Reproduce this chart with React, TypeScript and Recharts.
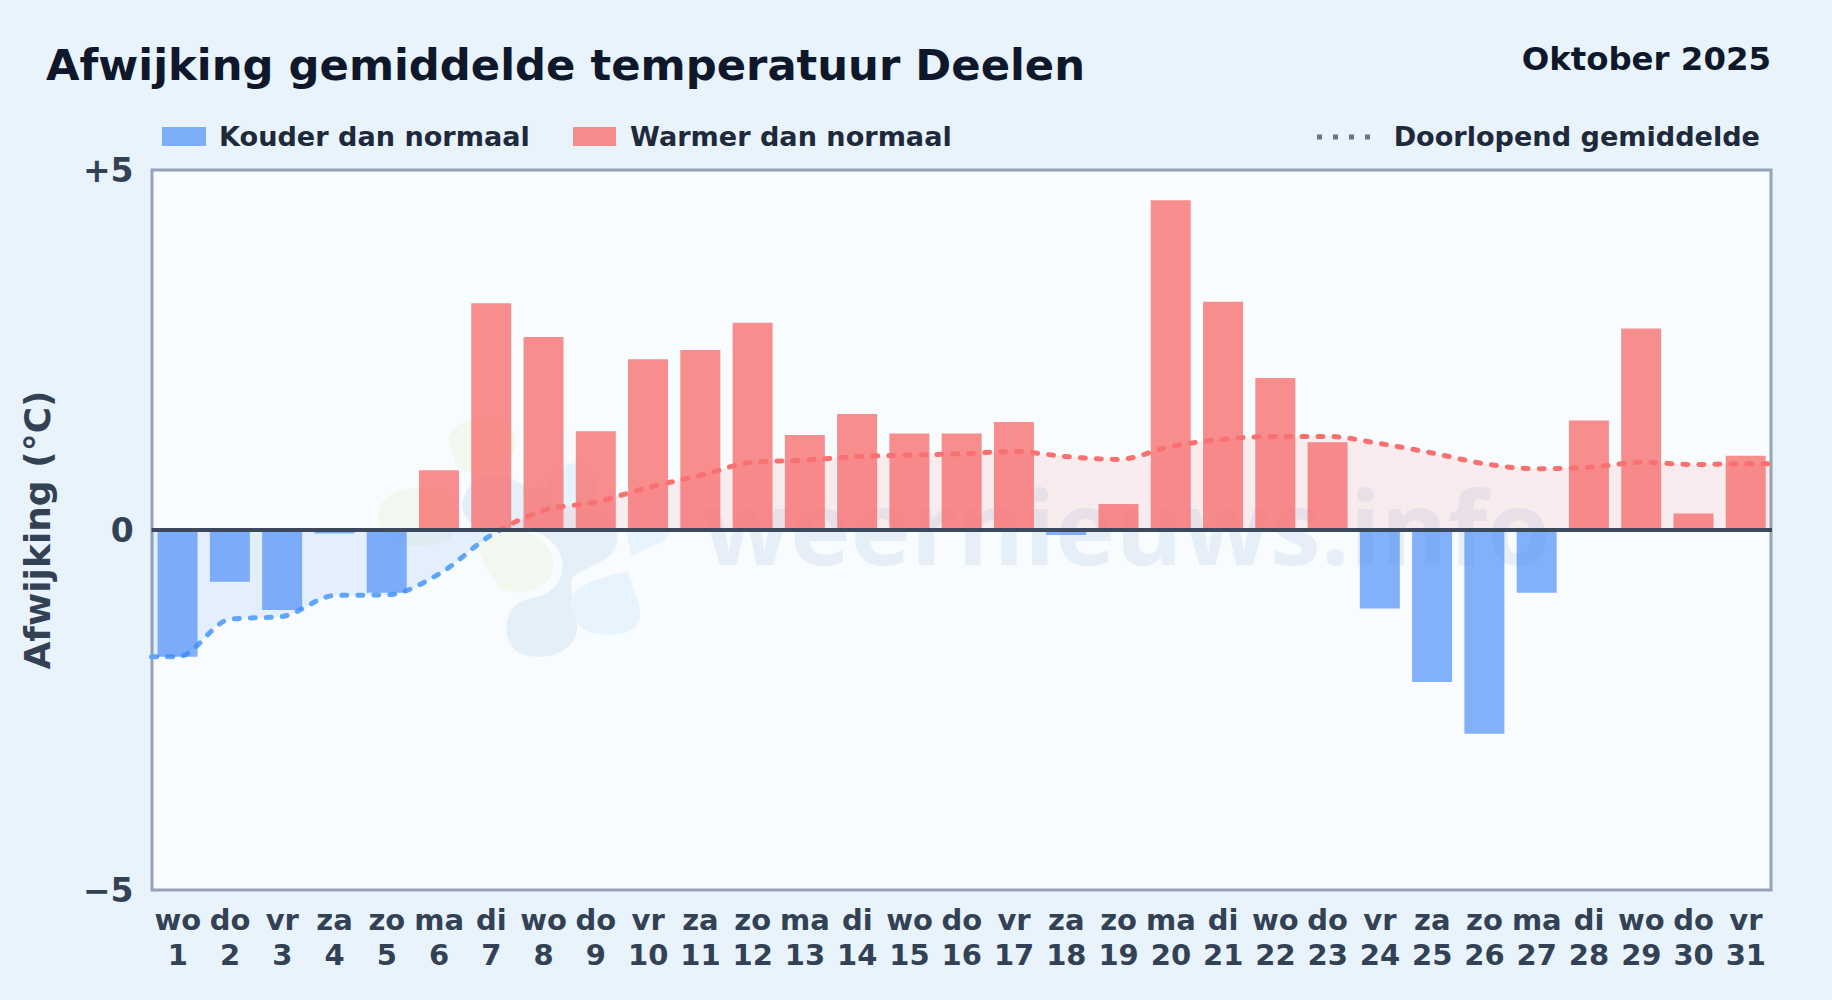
// Afwijking gemiddelde temperatuur Deelen, oktober 2025
import React from 'react';
import { ComposedChart, Bar, Area, Cell, XAxis, YAxis, ReferenceLine } from 'recharts';

const days = [1, 2, 3, 4, 5, 6, 7, 8, 9, 10, 11, 12, 13, 14, 15, 16, 17, 18, 19, 20, 21, 22, 23, 24, 25, 26, 27, 28, 29, 30, 31];
const weekdays = ['wo', 'do', 'vr', 'za', 'zo', 'ma', 'di', 'wo', 'do', 'vr', 'za', 'zo', 'ma', 'di', 'wo', 'do', 'vr', 'za', 'zo', 'ma', 'di', 'wo', 'do', 'vr', 'za', 'zo', 'ma', 'di', 'wo', 'do', 'vr'];
const deviations = [-1.76, -0.72, -1.11, -0.05, -0.87, 0.83, 3.15, 2.68, 1.37, 2.37, 2.5, 2.88, 1.32, 1.61, 1.34, 1.34, 1.5, -0.07, 0.36, 4.58, 3.17, 2.11, 1.22, -1.09, -2.11, -2.83, -0.87, 1.52, 2.8, 0.23, 1.03];
const runningMean = [-1.76, -1.24, -1.2, -0.91, -0.9, -0.61, -0.07, 0.27, 0.39, 0.59, 0.76, 0.94, 0.97, 1.02, 1.04, 1.06, 1.09, 1.02, 0.98, 1.16, 1.26, 1.3, 1.3, 1.2, 1.07, 0.92, 0.85, 0.87, 0.94, 0.91, 0.92];
const yTicks = [-5, 0, 5];
const yTickLabels = ['−5', '0', '+5'];

const WIDTH = 1832;
const HEIGHT = 1000;
const FONT = '"DejaVu Sans", sans-serif';

const COLD = '#3b82f6';
const WARM = '#f87171';

const barRows = days.map((day, i) => ({ day, value: deviations[i] }));

// the running mean line runs on to both edges of the plot
const meanRows = [
  { day: 0.5, mean: runningMean[0] },
  ...days.map((day, i) => ({ day, mean: runningMean[i] })),
  { day: 31.5, mean: runningMean[runningMean.length - 1] },
];

function DayTick({ x, y, payload }: any) {
  return (
    <text x={x} textAnchor="middle" fontFamily={FONT} fontWeight={700} fontSize={29} fill="#334155">
      <tspan x={x} y={y + 32}>{weekdays[payload.value - 1]}</tspan>
      <tspan x={x} y={y + 67}>{payload.value}</tspan>
    </text>
  );
}

function Backdrop() {
  return (
    <svg width={WIDTH} height={HEIGHT} style={{ position: 'absolute', left: 0, top: 0 }}>
      <rect x={152} y={170} width={1619} height={720} fill="#f8fcff" stroke="#94a3b8" strokeWidth={3} />
      {/* watermark */}
      <g>
        <path d="M463 500 C470 470 510 470 528 490 C560 480 610 500 617 530 C622 560 590 565 575 575 C565 585 578 605 577 630 C572 660 530 662 515 650 C500 635 505 605 525 600 C550 595 565 585 562 560 C555 530 520 525 490 530 C470 530 458 510 463 500 Z" fill="#e5eff8" />
        <path d="M478 540 C500 525 552 525 553 565 C553 590 520 597 505 590 C490 585 482 555 475 545 Z" fill="#f2f8f0" />
        <path d="M448 440 C450 420 490 410 510 425 C525 445 510 470 470 473 C450 470 455 450 448 440 Z" fill="#f2f8f0" />
        <path d="M378 515 C380 490 410 485 440 490 C460 510 470 540 430 545 C400 550 380 540 378 515 Z" fill="#f2f8f0" />
        <path d="M571 600 C573 585 600 578 628 571 C632 590 641 600 640 617 C637 640 592 637 582 628 C575 622 570 612 571 600 Z" fill="#e7f3fd" />
        <path d="M547 490 C547 465 585 450 593 480 C600 500 590 525 570 520 C555 515 547 505 547 490 Z" fill="#e7f3fd" />
        <path d="M626 530 L670 530 C668 545 650 545 640 552 C634 556 630 558 630 548 Z" fill="#e7f3fd" />
        <text x={703} y={565} fontFamily='"Open Sans", sans-serif' fontWeight={700} fontSize={102} fill="#e6eff8">weernieuws.info</text>
      </g>
    </svg>
  );
}

function Heading() {
  const text = { fontFamily: FONT, fontWeight: 700 };
  const legendText = { ...text, fontSize: 27.1, fill: '#1e293b' };
  return (
    <svg width={WIDTH} height={HEIGHT} style={{ position: 'absolute', left: 0, top: 0 }}>
      <text x={46} y={80} {...text} fontSize={43.3} fill="#0f172a">Afwijking gemiddelde temperatuur Deelen</text>
      <text x={1771} y={70} {...text} fontSize={32.4} fill="#0f172a" textAnchor="end">Oktober 2025</text>
      <rect x={162} y={127} width={44} height={19} fill={COLD} fillOpacity={0.62} />
      <text x={219} y={146} {...legendText}>Kouder dan normaal</text>
      <rect x={573} y={127} width={43} height={19} fill={WARM} fillOpacity={0.8} />
      <text x={630} y={146} {...legendText}>Warmer dan normaal</text>
      <line x1={1317} x2={1375} y1={137} y2={137} stroke="#64748b" strokeWidth={5} strokeDasharray="5 11" />
      <text x={1760} y={146} {...legendText} textAnchor="end">Doorlopend gemiddelde</text>
    </svg>
  );
}

export default function App() {
  return (
    <div style={{ position: 'absolute', left: 0, top: 0, width: WIDTH, height: HEIGHT, background: '#e8f3fc', overflow: 'hidden' }}>
      <Backdrop />
      <Heading />
      <div style={{ position: 'absolute', left: 0, top: 0 }}>
        <ComposedChart width={WIDTH} height={HEIGHT} data={barRows} margin={{ top: 170, right: 60, bottom: 0, left: 0 }}>
          <defs>
            <linearGradient id="meanFill" gradientUnits="userSpaceOnUse" x1="0" x2="0" y1="170" y2="890">
              <stop offset="50%" stopColor={WARM} stopOpacity={0.2} />
              <stop offset="50%" stopColor={COLD} stopOpacity={0.18} />
            </linearGradient>
            <linearGradient id="meanStroke" gradientUnits="userSpaceOnUse" x1="0" x2="0" y1="170" y2="890">
              <stop offset="50%" stopColor={WARM} />
              <stop offset="50%" stopColor="#60a5fa" />
            </linearGradient>
          </defs>
          <XAxis
            dataKey="day"
            type="number"
            domain={[0.5, 31.5]}
            ticks={days}
            interval={0}
            height={110}
            axisLine={false}
            tickLine={false}
            tick={<DayTick />}
          />
          <XAxis xAxisId="mean" dataKey="day" type="number" domain={[0.5, 31.5]} hide />
          <YAxis
            type="number"
            domain={[-5, 5]}
            ticks={yTicks}
            width={151.6}
            axisLine={false}
            tickLine={false}
            tickMargin={12}
            tickFormatter={(v: number) => yTickLabels[yTicks.indexOf(v)]}
            tick={{ fontFamily: FONT, fontWeight: 700, fontSize: 33, fill: '#334155' }}
            label={{
              value: 'Afwijking (°C)',
              angle: -90,
              position: 'insideLeft',
              offset: 37,
              style: { fontFamily: FONT, fontWeight: 700, fontSize: 36, fill: '#334155', textAnchor: 'middle' },
            }}
          />
          <Bar dataKey="value" barSize={40} isAnimationActive={false}>
            {barRows.map((row, i) => (
              <Cell key={i} fill={row.value < 0 ? COLD : WARM} fillOpacity={row.value < 0 ? 0.62 : 0.8} />
            ))}
          </Bar>
          <Area
            xAxisId="mean"
            data={meanRows}
            dataKey="mean"
            type="monotone"
            baseValue={0}
            fill="url(#meanFill)"
            stroke="url(#meanStroke)"
            strokeWidth={5}
            strokeDasharray="5 11"
            strokeLinecap="round"
            dot={false}
            activeDot={false}
            isAnimationActive={false}
          />
          <ReferenceLine y={0} stroke="#3c485c" strokeWidth={4} />
        </ComposedChart>
      </div>
    </div>
  );
}
